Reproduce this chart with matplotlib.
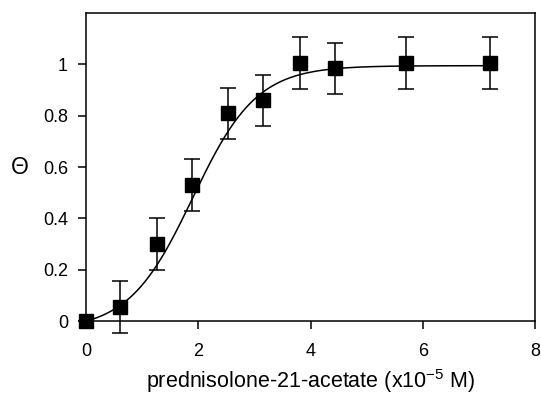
import numpy as np
import matplotlib
matplotlib.use("Agg")
import matplotlib.pyplot as plt

plt.rcParams['font.family'] = ['Liberation Sans', 'DejaVu Sans']
plt.rcParams['mathtext.fontset'] = 'custom'
plt.rcParams['mathtext.rm'] = 'Liberation Sans'
plt.rcParams['mathtext.it'] = 'Liberation Sans'
plt.rcParams['mathtext.bf'] = 'Liberation Sans:bold'

# data
conc = [0.0, 0.61, 1.27, 1.89, 2.53, 3.16, 3.82, 4.44, 5.70, 7.20]
theta = [0.0, 0.055, 0.30, 0.53, 0.81, 0.86, 1.005, 0.985, 1.005, 1.005]
err = [0.0, 0.10, 0.10, 0.10, 0.10, 0.10, 0.10, 0.10, 0.10, 0.10]

# fitted sigmoid parameters
x0 = 1.9
slope = 0.57
plateau = 0.995

xticks = [0, 2, 4, 6, 8]
yticks = [0, 0.2, 0.4, 0.6, 0.8, 1]
yticklabels = ['0', '0.2', '0.4', '0.6', '0.8', '1']

fig = plt.figure(figsize=(5.41, 3.96), dpi=100)
ax = fig.add_axes([0.159, 0.189, 0.830, 0.778])

xs = np.linspace(0, 7.2, 300)
base = 1 / (1 + np.exp(x0 / slope))
top = 1 / (1 + np.exp(-(7.2 - x0) / slope))
ys = plateau * (1 / (1 + np.exp(-(xs - x0) / slope)) - base) / (top - base)
ax.plot(xs, ys, color='black', lw=1.1, zorder=2)

ax.errorbar(conc, theta, yerr=err, fmt='s', color='black', ms=10,
            ecolor='black', elinewidth=1.1, capsize=6, capthick=1.1,
            zorder=3, clip_on=False)

ax.set_xlim(0, 8)
ax.set_ylim(0, 1.2)
ax.set_xticks(xticks)
ax.set_yticks(yticks)
ax.set_yticklabels(yticklabels)
ax.tick_params(direction='out', length=6, width=1.1)
ax.tick_params(axis='x', labelsize=13, pad=10)
ax.tick_params(axis='y', labelsize=13, pad=7)
for s in ax.spines.values():
    s.set_linewidth(1.1)

ax.set_xlabel('prednisolone-21-acetate (x10$^{\\mathregular{-5}}$ M)', fontsize=15.5, labelpad=5)
ax.set_ylabel('\u0398', fontsize=16.5, rotation=0, va='center')
ax.yaxis.set_label_coords(-0.147, 0.5)

fig.savefig('out.png', dpi=100)
